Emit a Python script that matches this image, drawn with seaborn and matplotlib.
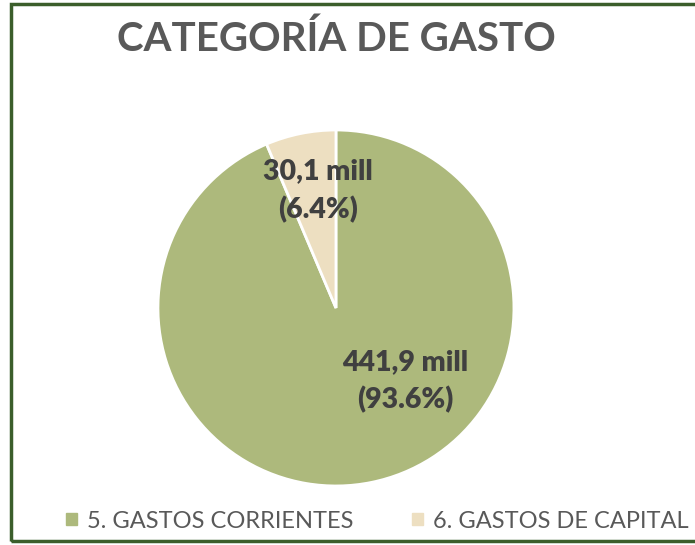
import matplotlib
matplotlib.use("Agg")
import matplotlib.pyplot as plt
import matplotlib.patches as mpatches
import seaborn as sns

# data
categorias = ["5. GASTOS CORRIENTES", "6. GASTOS DE CAPITAL"]
montos_mill = [441.9, 30.1]
etiquetas_monto = ["441,9 mill", "30,1 mill"]
colores = ["#ADB97C", "#EDDFC1"]

sns.set_theme(style="white")
plt.rcParams["font.family"] = ["Lato", "DejaVu Sans"]

fig = plt.figure(figsize=(6.95, 5.45), dpi=100)
ax = fig.add_axes([0.2273, 0.1083, 0.5122, 0.6532])

wedges, _ = ax.pie(montos_mill, colors=colores, startangle=90, counterclock=False,
                   wedgeprops=dict(edgecolor="white", linewidth=2))
ax.set_xlim(-1, 1)
ax.set_ylim(-1, 1)
ax.set_aspect("equal")

total = sum(montos_mill)
pos_labels = [(0.39, -0.41), (-0.10, 0.66)]
for (x, y), txt, v in zip(pos_labels, etiquetas_monto, montos_mill):
    ax.text(x, y, f"{txt}\n({v / total * 100:.1f}%)", ha="center", va="center",
            fontsize=20.5, fontweight="heavy", color="#404040", linespacing=1.5)

fig.text(0.4835, 0.928, "CATEGORÍA DE GASTO", ha="center", va="center",
         fontsize=29, fontweight="bold", color="#595959")

handles = [mpatches.Patch(color=c, label=l) for c, l in zip(colores, categorias)]
fig.legend(handles=handles, loc="center left", bbox_to_anchor=(0.095, 0.044),
           ncol=2, frameon=False, fontsize=17, handlelength=0.45, handleheight=0.45,
           handletextpad=0.42, columnspacing=2.5, labelcolor="#595959",
           borderaxespad=0, borderpad=0)

border = mpatches.Rectangle((11 / 695, 4 / 545), 1.0, 537 / 545, transform=fig.transFigure,
                            fill=False, edgecolor="#3B5E2B", linewidth=2.5, clip_on=False)
fig.patches.append(border)

fig.savefig("out.png", dpi=100, facecolor="white")
